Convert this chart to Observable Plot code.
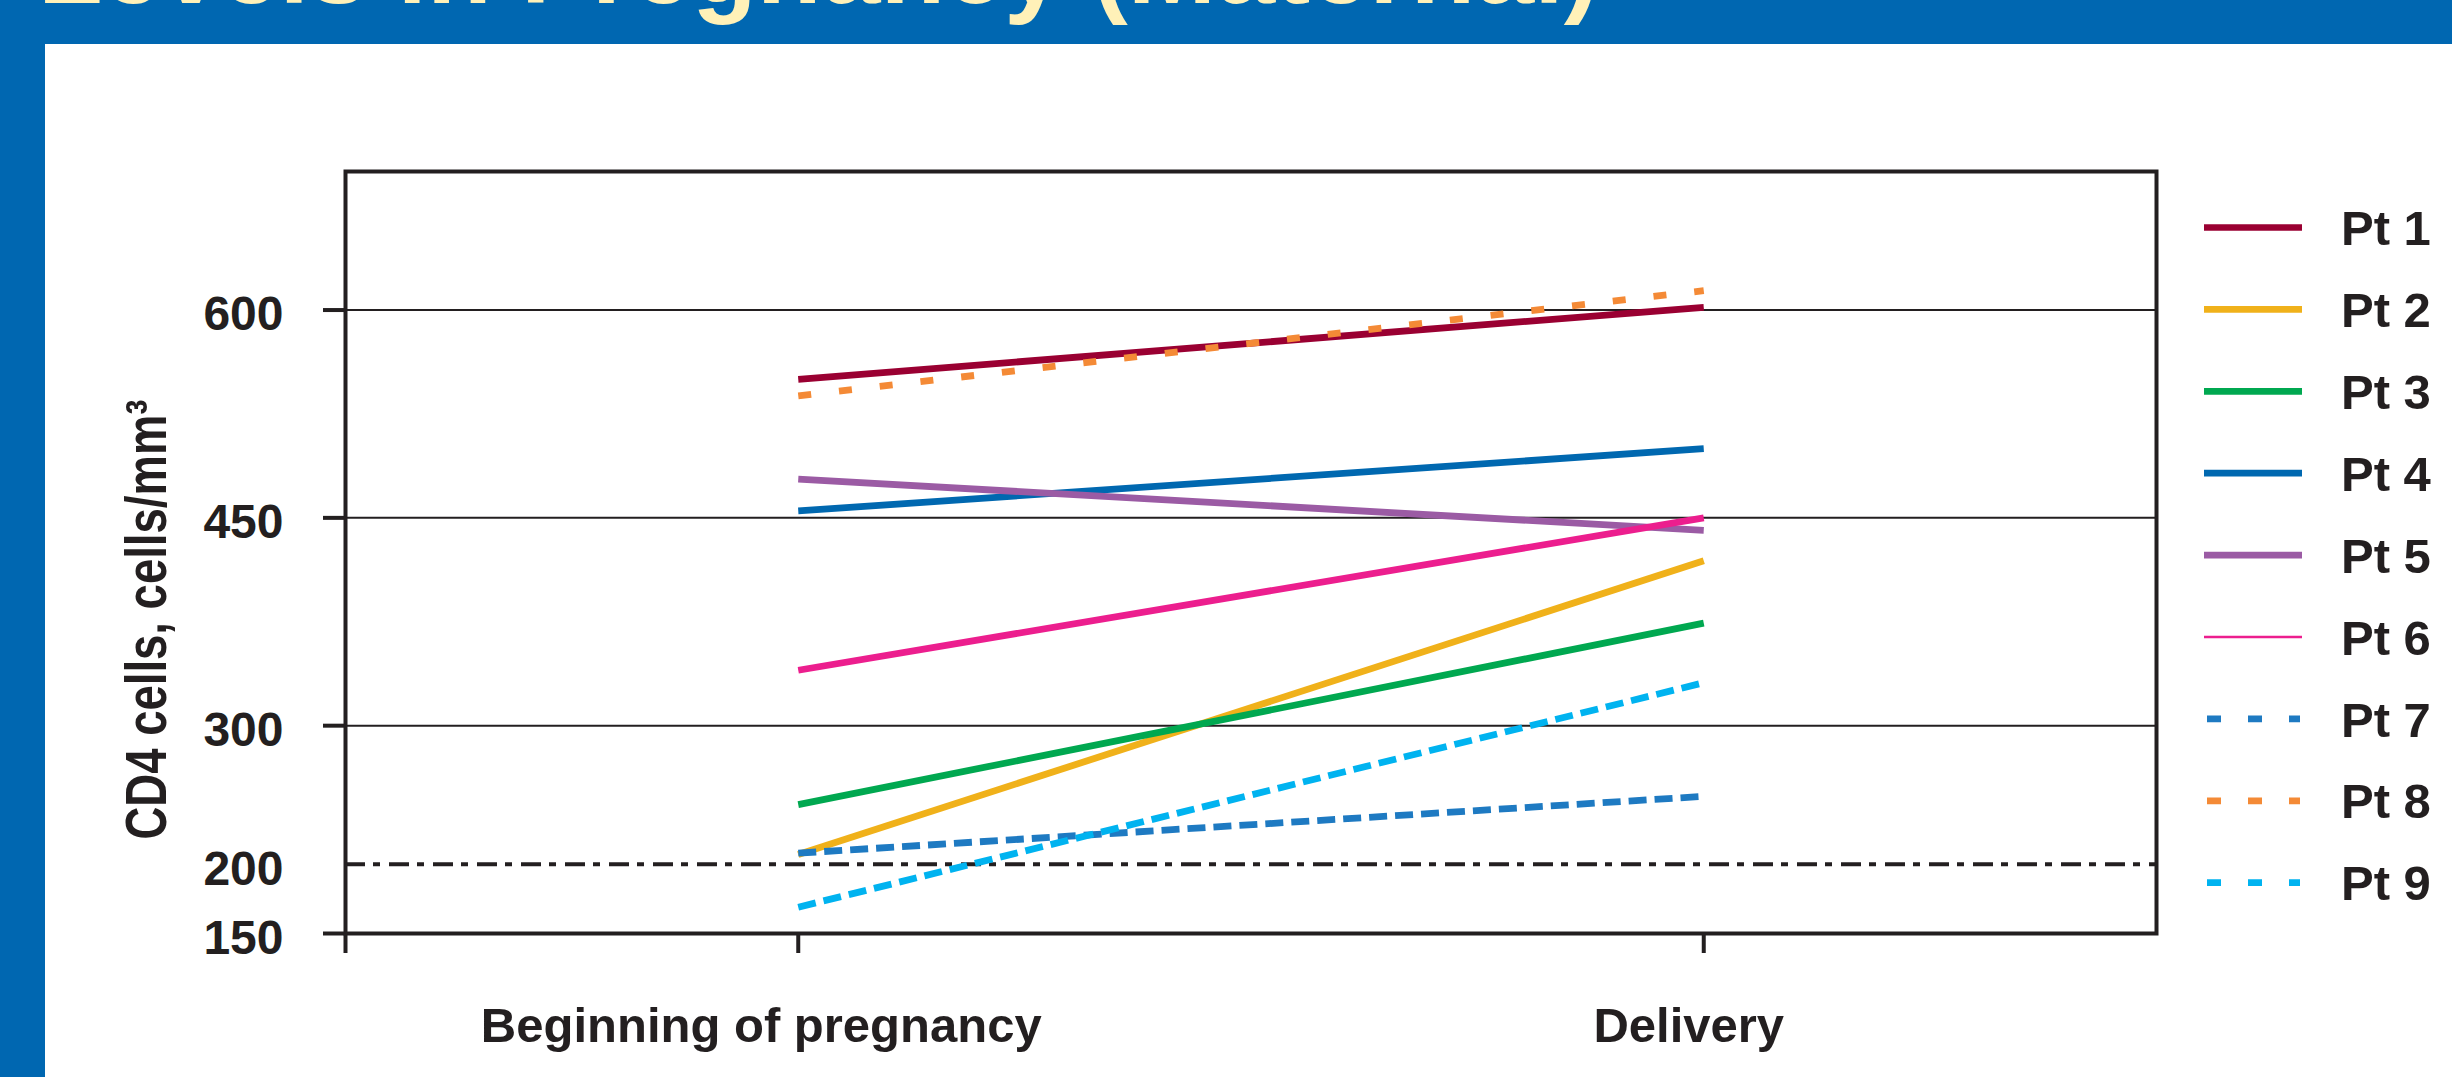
<!DOCTYPE html>
<html>
<head>
<meta charset="utf-8">
<script src="https://cdn.jsdelivr.net/npm/d3@7"></script>
<script src="https://cdn.jsdelivr.net/npm/@observablehq/plot@0.6"></script>
<style>
html, body { margin: 0; padding: 0; background: #ffffff; width: 2452px; height: 1077px; overflow: hidden; }
#wrap { position: relative; width: 2452px; height: 1077px; font-family: "Liberation Sans", Arial, Helvetica, sans-serif; }
#chart { position: absolute; left: 0; top: 0; }
.band { position: absolute; background: #0067B1; }
#title { position: absolute; left: 0; top: 0; overflow: hidden; }
#legend { position: absolute; left: 2190px; top: 170px; }
</style>
</head>
<body>
<div id="wrap">
  <div id="chart"></div>
  <div class="band" style="left:0;top:0;width:2452px;height:44px"></div>
  <div class="band" style="left:0;top:0;width:45px;height:1077px"></div>
  <svg id="title" width="2452" height="44"></svg>
  <svg id="legend" width="262" height="760"></svg>
</div>
<script>
// ---- data ----
const titleText = "Levels in Pregnancy (Maternal)";
const categories = ["Beginning of pregnancy", "Delivery"];
const patients = ["Pt 1", "Pt 2", "Pt 3", "Pt 4", "Pt 5", "Pt 6", "Pt 7", "Pt 8", "Pt 9"];
const beginning = [550, 207, 243, 455, 478, 340, 208, 538, 169];
const delivery  = [602, 419, 374, 500, 441, 450, 249, 614, 331];
const yTickLabels = [150, 200, 300, 450, 600];
const yTickMarks = [150, 300, 450, 600];
const gridValues = [300, 450, 600];
const threshold = [200];
const yLabel = "CD4 cells, cells/mm³";

// ---- styles ----
const ink = "#231F20";
const colors = ["#9A0032", "#F0B11A", "#00A850", "#0068B0", "#9B5BA4", "#EC1E8E", "#1E7AC2", "#F48A36", "#00B3F0"];
const dashes = [null, null, null, null, null, null, "18,8", "13,28", "18,8"];
const legendWidths = [6.7, 6.7, 6.7, 6.7, 6.7, 2.5, 6.7, 6.7, 6.7];
const labelShift = [-37, -15];
const font = '"Liberation Sans", Arial, Helvetica, sans-serif';

const rows = [];
patients.forEach((p, i) => {
  rows.push({patient: p, stage: categories[0], value: beginning[i]});
  rows.push({patient: p, stage: categories[1], value: delivery[i]});
});
const xOf = d => categories.indexOf(d.stage);
const xDomain = [-0.5, categories.length - 0.5];

const plot = Plot.plot({
  width: 2452,
  height: 1077,
  marginLeft: 345,
  marginRight: 296,
  marginTop: 171,
  marginBottom: 144,
  style: {fontFamily: font, background: "transparent", color: ink, overflow: "visible"},
  x: {type: "linear", domain: xDomain, axis: null, label: null},
  y: {domain: [150, 700], axis: null, label: null},
  marks: [
    Plot.gridY(gridValues, {stroke: ink, strokeOpacity: 1, strokeWidth: 2}),
    Plot.ruleY(threshold, {stroke: ink, strokeWidth: 4, strokeDasharray: "20,8,7,9"}),
    ...patients.map((p, i) => Plot.line(rows.filter(r => r.patient === p), {
      x: xOf, y: "value", stroke: colors[i], strokeWidth: 6.8,
      strokeDasharray: dashes[i] || undefined, strokeLinecap: "butt", strokeLinejoin: "miter"
    })),
    Plot.frame({stroke: ink, strokeWidth: 4}),
    Plot.axisY({ticks: yTickMarks, tickSize: 22, strokeWidth: 4, stroke: ink, tickFormat: () => "", label: null}),
    Plot.axisX({ticks: [xDomain[0], ...categories.map((c, i) => i)], tickSize: 20, strokeWidth: 4, stroke: ink, tickFormat: () => "", label: null}),
    Plot.text(yTickLabels, {y: d => d, frameAnchor: "left", dx: -62, dy: 5, textAnchor: "end",
      fontSize: 48, fontWeight: "bold", fill: ink, text: d => String(d)}),
    ...categories.map((c, i) => Plot.text([c], {x: () => i, frameAnchor: "bottom", lineAnchor: "top",
      dy: 74, dx: labelShift[i], fontSize: 49, fontWeight: "bold", fill: ink})),
    Plot.text([yLabel], {frameAnchor: "left", dx: -198, dy: 67, rotate: -90, fontSize: 58,
      fontWeight: "bold", fill: ink, lineAnchor: "middle", textAnchor: "middle"})
  ]
});
document.getElementById("chart").appendChild(plot);

// condense the y-axis title like the reference's condensed face
d3.select(plot).selectAll("text").filter(function() { return this.textContent === yLabel; })
  .attr("textLength", 440).attr("lengthAdjust", "spacingAndGlyphs");

// ---- title ----
d3.select("#title").append("text")
  .attr("x", 38).attr("y", 3)
  .attr("font-family", font).attr("font-size", 106).attr("font-weight", "bold")
  .attr("fill", "#FFF1B8")
  .text(titleText);

// ---- legend ----
const leg = d3.select("#legend");
const rowStep = 81.9, rowStart = 57.5;
patients.forEach((p, i) => {
  const cy = rowStart + i * rowStep;
  const dashed = !!dashes[i];
  leg.append("line")
    .attr("x1", dashed ? 17 : 14).attr("x2", dashed ? 110 : 112)
    .attr("y1", cy).attr("y2", cy)
    .attr("stroke", colors[i]).attr("stroke-width", legendWidths[i])
    .attr("stroke-dasharray", dashed ? "14,27" : null);
  leg.append("text")
    .attr("x", 151).attr("y", cy).attr("dy", "0.36em")
    .attr("font-family", font).attr("font-size", 49).attr("font-weight", "bold")
    .attr("fill", ink)
    .text(p);
});
</script>
</body>
</html>
